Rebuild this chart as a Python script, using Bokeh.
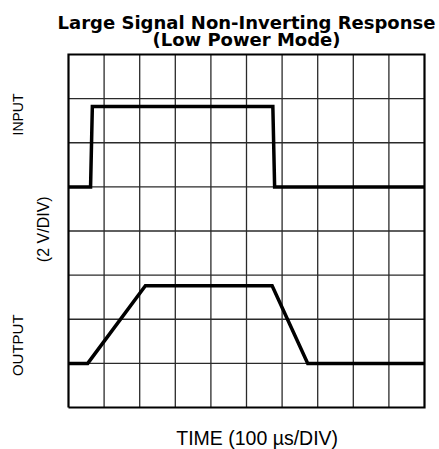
import math
from bokeh.plotting import figure
from bokeh.models import Range1d
from bokeh.core.properties import value
from bokeh.embed import file_html
from bokeh.resources import INLINE

# Data in oscilloscope divisions (x: 10 div of 100 us, y: 8 div of 2 V)
input_t = [0.0, 0.62, 0.67, 5.74, 5.79, 10.0]
input_v = [5.0, 5.0, 6.82, 6.82, 5.0, 5.0]
output_t = [0.0, 0.54, 2.16, 5.72, 6.72, 10.0]
output_v = [1.0, 1.0, 2.76, 2.76, 1.0, 1.0]
x_divs = list(range(0, 11))
y_divs = list(range(0, 9))

title_1 = "Large Signal Non-Inverting Response"
title_2 = "(Low Power Mode)"
x_label = "TIME (100 \u00b5s/DIV)"
y_label_top = "INPUT"
y_label_mid = "(2 V/DIV)"
y_label_bot = "OUTPUT"

# Layout: canvas pixels of the graticule
W, H = 439, 449
gx0, gx1, gy0, gy1 = 68, 424, 54, 407
px_x = (gx1 - gx0) / 10.0
px_y = (gy1 - gy0) / 8.0

p = figure(width=W, height=H, output_backend="svg", toolbar_location=None,
           x_range=Range1d(-gx0 / px_x, (W - gx0) / px_x),
           y_range=Range1d(-(H - gy1) / px_y, 8 + gy0 / px_y))
p.title.visible = False
p.min_border = 0
p.xaxis.visible = False
p.yaxis.visible = False
p.xgrid.visible = False
p.ygrid.visible = False
p.outline_line_color = None
p.background_fill_color = "white"
p.border_fill_color = "white"

inner_x = [v for v in x_divs if v not in (x_divs[0], x_divs[-1])]
inner_y = [v for v in y_divs if v not in (y_divs[0], y_divs[-1])]
p.segment(x0=inner_x, y0=[y_divs[0]] * len(inner_x), x1=inner_x, y1=[y_divs[-1]] * len(inner_x),
          line_color="#2a2a2a", line_width=1.3)
p.segment(x0=[x_divs[0]] * len(inner_y), y0=inner_y, x1=[x_divs[-1]] * len(inner_y), y1=inner_y,
          line_color="#2a2a2a", line_width=1.3)
# outer border
bx = [x_divs[0], x_divs[-1], x_divs[-1], x_divs[0], x_divs[0]]
by = [y_divs[0], y_divs[0], y_divs[-1], y_divs[-1], y_divs[0]]
p.line(bx, by, line_color="black", line_width=2.2, line_join="miter")

p.line(input_t, input_v, line_color="black", line_width=3.5, line_join="miter")
p.line(output_t, output_v, line_color="black", line_width=3.5, line_join="miter")

p.text(x=[5.0, 5.0], y=[8.72, 8.34], text=[title_1, title_2], text_align="center",
       text_baseline="alphabetic", text_font=value("DejaVu Sans"), text_font_style="bold",
       text_font_size="18px", text_color="black")
p.text(x=[5.3], y=[-0.68], text=[x_label], text_align="center", text_baseline="middle",
       text_font=value("Liberation Sans"), text_font_size="19.5px", text_color="black")
p.text(x=[-1.43], y=[6.64], text=[y_label_top], text_align="center", text_baseline="middle",
       angle=math.pi / 2, text_font=value("Liberation Sans"), text_font_size="14px",
       text_color="black")
p.text(x=[-0.70], y=[4.04], text=[y_label_mid], text_align="center", text_baseline="middle",
       angle=math.pi / 2, text_font=value("Liberation Sans"), text_font_size="16px",
       text_color="black")
p.text(x=[-1.43], y=[1.41], text=[y_label_bot], text_align="center", text_baseline="middle",
       angle=math.pi / 2, text_font=value("Liberation Sans"), text_font_size="15px",
       text_color="black")

open("out.html", "w").write(file_html(p, INLINE))
